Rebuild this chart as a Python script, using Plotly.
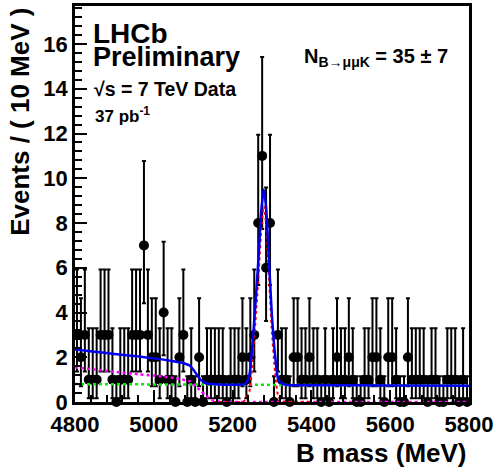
import plotly.graph_objects as go

# ---- data (events per 10 MeV bin, 4800-5800 MeV) ----
bin_lo = 4800
bin_width = 10
counts = [3, 2, 3, 1, 1, 1, 3, 3, 3, 1,
          0, 1, 1, 1, 3, 3, 3, 7, 3, 2,
          2, 1, 4, 1, 1, 0, 2, 3, 0, 1,
          0, 2, 0, 1, 1, 1, 1, 1, 0, 1,
          1, 1, 2, 1, 2, 3, 8, 11, 6, 8,
          0, 3, 1, 1, 0, 2, 2, 1, 1, 2,
          1, 1, 0, 1, 0, 1, 2, 1, 1, 2,
          1, 0, 0, 1, 1, 2, 2, 1, 0, 2,
          2, 1, 0, 0, 2, 1, 1, 1, 1, 0,
          1, 1, 0, 0, 1, 1, 1, 0, 1, 0]

# Poisson (Garwood) interval table, indexed by count
err_up_table = [1.148, 2.299, 2.637, 2.918, 3.162, 3.382, 3.583, 3.770, 3.944, 4.110, 4.266, 4.416]
err_dn_table = [0.0, 0.827, 1.292, 1.633, 1.914, 2.159, 2.380, 2.581, 2.768, 2.943, 3.108, 3.266]

# fit curves
total_x = [4800, 4850, 4900, 4962, 5000, 5050, 5078, 5092, 5103, 5112, 5120, 5132, 5145, 5165, 5200,
           5225, 5233, 5238, 5243, 5251, 5260, 5267, 5273, 5279, 5285, 5291, 5299, 5308, 5316,
           5325, 5340, 5400, 5600, 5800]
total_y = [2.35, 2.25, 2.15, 2.03, 1.95, 1.82, 1.72, 1.62, 1.38, 1.15, 0.97, 0.85, 0.8, 0.78, 0.77,
           0.78, 0.82, 0.95, 1.25, 2.7, 4.9, 6.8, 8.6, 9.5, 8.7, 6.8, 4.1, 2.05, 1.0,
           0.82, 0.76, 0.75, 0.74, 0.73]

partreco_x = [4800, 4850, 4900, 4962, 5000, 5050, 5078, 5091, 5103, 5116, 5133, 5150, 5170, 5200, 5500, 5800]
partreco_y = [1.55, 1.45, 1.35, 1.24, 1.18, 1.08, 0.98, 0.93, 0.75, 0.55, 0.27, 0.07, 0.01, 0.0, 0.0, 0.0]

comb_x = [4800, 5800]
comb_y = [0.8, 0.73]

signal_x = [5150, 5215, 5228, 5236, 5243, 5251, 5260, 5267, 5273, 5279, 5285, 5291, 5299, 5308, 5316,
            5325, 5340, 5400]
signal_y = [0.0, 0.0, 0.03, 0.2, 0.5, 1.95, 4.1, 6.0, 7.8, 8.75, 7.95, 6.05, 3.35, 1.3, 0.25,
            0.04, 0.0, 0.0]

x_ticks = [4800, 5000, 5200, 5400, 5600, 5800]
y_ticks = [0, 2, 4, 6, 8, 10, 12, 14, 16]

# ---- derived ----
bin_centers = [bin_lo + bin_width * (i + 0.5) for i in range(len(counts))]
err_up = [err_up_table[c] for c in counts]
err_dn = [err_dn_table[c] for c in counts]

FONT = "Liberation Sans"

fig = go.Figure()

fig.add_trace(go.Scatter(
    x=bin_centers, y=counts, mode="markers",
    marker=dict(color="black", size=10),
    error_y=dict(type="data", symmetric=False, array=err_up, arrayminus=err_dn,
                 color="black", thickness=2, width=2),
    cliponaxis=False, showlegend=False))

fig.add_trace(go.Scatter(x=comb_x, y=comb_y, mode="lines",
                         line=dict(color="#00ee00", width=2.5, dash="dot"), showlegend=False))
fig.add_trace(go.Scatter(x=partreco_x, y=partreco_y, mode="lines",
                         line=dict(color="#ff00ff", width=2.5, dash="dot", shape="spline", smoothing=0.6),
                         showlegend=False))
fig.add_trace(go.Scatter(x=signal_x, y=signal_y, mode="lines",
                         line=dict(color="#ff0000", width=2, dash="dot", shape="spline", smoothing=0.6),
                         showlegend=False))
fig.add_trace(go.Scatter(x=total_x, y=total_y, mode="lines",
                         line=dict(color="#0000ee", width=2.5, shape="spline", smoothing=0.6),
                         showlegend=False))

axis_common = dict(showline=True, linecolor="black", linewidth=2.5, mirror=True,
                   ticks="inside", tickcolor="black", tickwidth=2, ticklen=12,
                   showgrid=False, zeroline=False, ticklabeloverflow="allow",
                   tickfont=dict(family=FONT, size=22, color="black", weight="bold"))

fig.update_layout(
    width=496, height=476,
    margin=dict(l=75, r=25, t=3, b=74),
    paper_bgcolor="white", plot_bgcolor="white",
    xaxis=dict(range=[4800, 5800], tickvals=x_ticks, ticktext=[str(v) for v in x_ticks],
               minor=dict(ticks="inside", ticklen=7, tickwidth=2, dtick=40, tickcolor="black"),
               ticklabelstandoff=1,
               **axis_common),
    yaxis=dict(range=[0, 17.7], tickvals=y_ticks, ticktext=[str(v) for v in y_ticks],
               minor=dict(ticks="inside", ticklen=7, tickwidth=2, dtick=0.4, tickcolor="black"),
               ticklabelstandoff=0,
               **axis_common),
    annotations=[
        dict(text="B mass (MeV)", xref="paper", yref="paper", x=1.0, y=-0.13,
             xanchor="right", yanchor="middle", showarrow=False,
             font=dict(family=FONT, size=26, color="black", weight="bold")),
        dict(text="Events / ( 10 MeV )", xref="paper", yref="paper", x=-0.14, y=1.0,
             xanchor="center", yanchor="top", textangle=-90, showarrow=False,
             font=dict(family=FONT, size=26, color="black", weight="bold")),
        dict(text="LHCb", xref="paper", yref="paper", x=0.04, y=0.976,
             xanchor="left", yanchor="top", showarrow=False,
             font=dict(family=FONT, size=28, color="black", weight="bold")),
        dict(text="Preliminary", xref="paper", yref="paper", x=0.04, y=0.915,
             xanchor="left", yanchor="top", showarrow=False,
             font=dict(family=FONT, size=27, color="black", weight="bold")),
        dict(text="√s = 7 TeV Data", xref="paper", yref="paper", x=0.043, y=0.822,
             xanchor="left", yanchor="top", showarrow=False,
             font=dict(family=FONT, size=19.5, color="black", weight="bold")),
        dict(text="37 pb<sup>-1</sup>", xref="paper", yref="paper", x=0.045, y=0.758,
             xanchor="left", yanchor="top", showarrow=False,
             font=dict(family=FONT, size=17, color="black", weight="bold")),
        dict(text="N<sub>B→μμK</sub> = 35 ± 7", xref="paper", yref="paper", x=0.575, y=0.907,
             xanchor="left", yanchor="top", showarrow=False,
             font=dict(family=FONT, size=20, color="black", weight="bold")),
    ],
)

fig.write_html("out.html")
